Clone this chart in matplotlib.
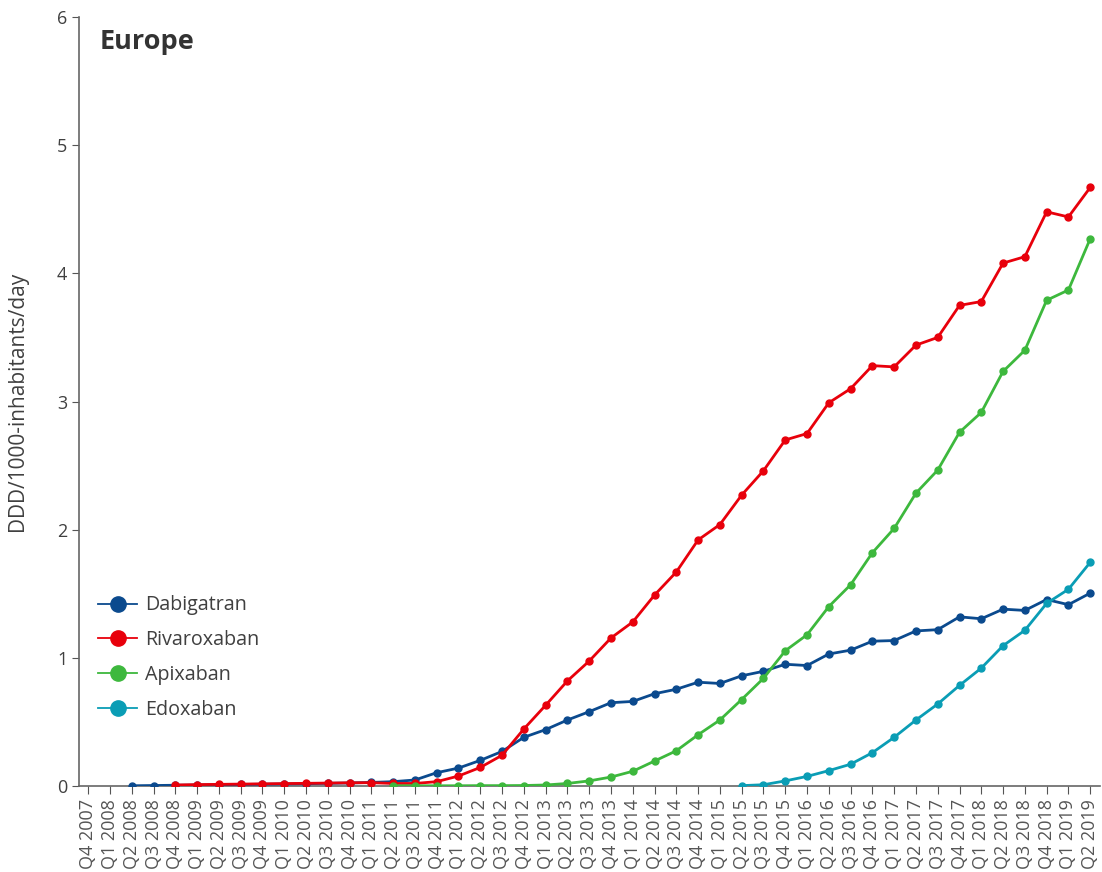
import matplotlib
matplotlib.use('Agg')
import matplotlib.pyplot as plt
from matplotlib.lines import Line2D
import numpy as np

plt.rcParams['font.family'] = ['Open Sans', 'DejaVu Sans']

nan = np.nan

# quarters Q4 2007 .. Q2 2019
quarters = ['Q4 2007'] + ['Q%d %d' % (q, y) for y in range(2008, 2019) for q in range(1, 5)] + ['Q1 2019', 'Q2 2019']

dabigatran = [nan, nan, 0.002, 0.004, 0.006, 0.008, 0.010, 0.012, 0.014, 0.016,
              0.018, 0.021, 0.024, 0.028, 0.034, 0.047, 0.104, 0.14, 0.20, 0.27,
              0.38, 0.44, 0.515, 0.58, 0.65, 0.66, 0.72, 0.755, 0.81, 0.80,
              0.86, 0.895, 0.95, 0.94, 1.03, 1.06, 1.13, 1.135, 1.21, 1.22,
              1.32, 1.305, 1.38, 1.37, 1.455, 1.415, 1.505]
rivaroxaban = [nan, nan, nan, nan, 0.008, 0.011, 0.013, 0.015, 0.017, 0.019,
               0.021, 0.023, 0.025, 0.026, 0.02, 0.02, 0.034, 0.078, 0.145, 0.24,
               0.445, 0.63, 0.82, 0.975, 1.155, 1.28, 1.49, 1.67, 1.92, 2.04,
               2.27, 2.46, 2.70, 2.75, 2.99, 3.10, 3.28, 3.27, 3.44, 3.50,
               3.75, 3.78, 4.08, 4.13, 4.48, 4.44, 4.67]
apixaban = [nan] * 14 + [0.002, 0.002, 0.002, 0.002, 0.003, 0.003,
                         0.004, 0.008, 0.02, 0.04, 0.07, 0.115, 0.195, 0.275, 0.40, 0.515,
                         0.675, 0.84, 1.055, 1.18, 1.40, 1.57, 1.82, 2.01, 2.285, 2.465,
                         2.76, 2.915, 3.235, 3.40, 3.79, 3.87, 4.27]
edoxaban = [nan] * 30 + [0.003, 0.01, 0.04, 0.075, 0.12, 0.17, 0.26, 0.38, 0.515, 0.64,
                         0.785, 0.92, 1.095, 1.215, 1.425, 1.535, 1.745]

series = [('Dabigatran', dabigatran, '#0b4a8e'),
          ('Rivaroxaban', rivaroxaban, '#e8000b'),
          ('Apixaban', apixaban, '#3db83d'),
          ('Edoxaban', edoxaban, '#0a9db5')]

fig = plt.figure(figsize=(11.02, 8.72), dpi=100)
ax = fig.add_axes([0.0717, 0.0986, 0.9265, 0.8819])

x = np.arange(len(quarters))
handles = []
for name, vals, col in series:
    ax.plot(x, vals, color=col, linewidth=2.0, marker='o', markersize=5, zorder=3)
    handles.append(Line2D([], [], color=col, linewidth=1.3, marker='o', markersize=11, label=name))

ax.set_xlim(-0.42, 46.45)
ax.set_ylim(0, 6)
ax.set_yticks(range(0, 7))
ax.set_xticks(x)
ax.set_xticklabels(quarters, rotation=90, fontsize=13, color='#404040')
ax.tick_params(axis='y', labelsize=13, colors='#555555', labelcolor='#404040', length=5)
ax.tick_params(axis='x', colors='#555555', length=6)

for s in ['top', 'right']:
    ax.spines[s].set_visible(False)
for s in ['left', 'bottom']:
    ax.spines[s].set_color('#666666')
    ax.spines[s].set_linewidth(1.2)

ax.set_ylabel('DDD/1000-inhabitants/day', fontsize=15, color='#404040', labelpad=21)
ax.text(0.020, 0.985, 'Europe', transform=ax.transAxes, fontsize=19.5, fontweight='bold',
        color='#333333', va='top', ha='left')

ax.legend(handles=handles, loc='lower left', bbox_to_anchor=(0.001, 0.063), frameon=False,
          fontsize=14.2, labelcolor='#404040', handlelength=2.0, handletextpad=0.4,
          labelspacing=0.75)

fig.savefig('out.png', dpi=100)
